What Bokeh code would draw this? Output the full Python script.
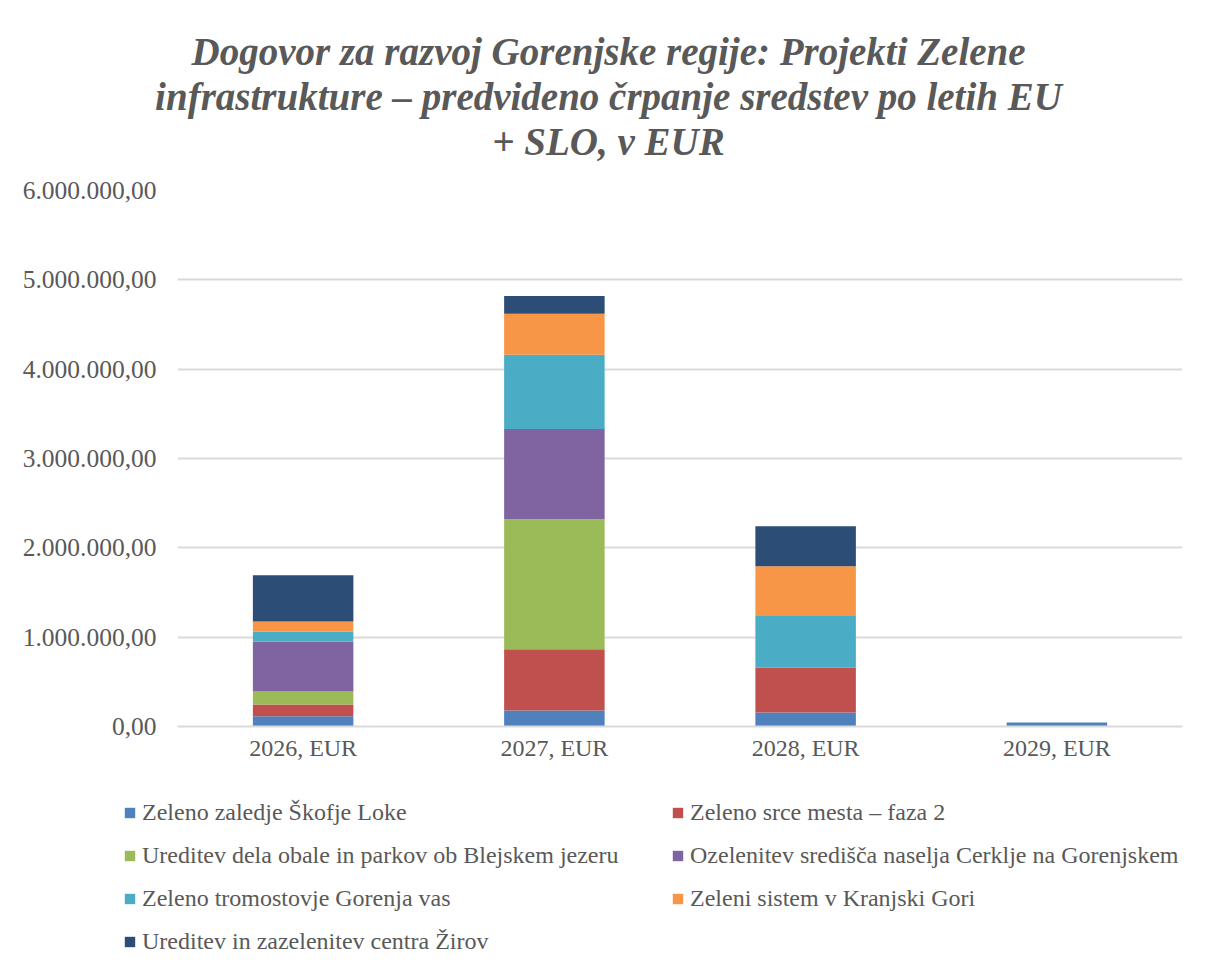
from bokeh.plotting import figure
from bokeh.layouts import column
from bokeh.models import (FactorRange, Range1d, FixedTicker, Legend, LegendItem,
                          ColumnDataSource, Title)
from bokeh.embed import file_html
from bokeh.resources import INLINE

years = ["2026, EUR", "2027, EUR", "2028, EUR", "2029, EUR"]
projects = [
    "Zeleno zaledje Škofje Loke",
    "Zeleno srce mesta – faza 2",
    "Ureditev dela obale in parkov ob Blejskem jezeru",
    "Ozelenitev središča naselja Cerklje na Gorenjskem",
    "Zeleno tromostovje Gorenja vas",
    "Zeleni sistem v Kranjski Gori",
    "Ureditev in zazelenitev centra Žirov",
]
zaledje_skofja_loka = [115000, 180000, 157000, 45000]
zeleno_srce = [131000, 684000, 504000, 0]
obala_bled = [146000, 1457000, 0, 0]
cerklje = [560000, 1009000, 0, 0]
tromostovje = [112000, 830000, 583000, 0]
kranjska_gora = [112000, 460000, 549000, 0]
ziri = [516000, 200000, 448000, 0]

y_ticks = [0, 1000000, 2000000, 3000000, 4000000, 5000000, 6000000]
y_tick_labels = ["0,00", "1.000.000,00", "2.000.000,00", "3.000.000,00",
                 "4.000.000,00", "5.000.000,00", "6.000.000,00"]

title_lines = ["Dogovor za razvoj Gorenjske regije: Projekti Zelene",
               "infrastrukture – predvideno črpanje sredstev po letih EU",
               "+ SLO, v EUR"]

colors = ["#4f81bd", "#c0504d", "#9bbb59", "#8064a2", "#4bacc6", "#f79646", "#2c4d75"]
keys = ["s0", "s1", "s2", "s3", "s4", "s5", "s6"]
series = [zaledje_skofja_loka, zeleno_srce, obala_bled, cerklje, tromostovje, kranjska_gora, ziri]

data = {"year": years}
for k, s in zip(keys, series):
    data[k] = s
src = ColumnDataSource(data)

FONT = "Liberation Serif"
TXT = "#595959"
W = 1210

# ---- title strip ----
head = figure(width=W, height=170, x_range=(0, 1), y_range=(0, 1),
              output_backend="svg", toolbar_location=None, title=None,
              min_border_left=6, min_border_right=0, min_border_top=162, min_border_bottom=0)
head.frame_align = False
head.axis.visible = False
head.grid.visible = False
head.outline_line_color = None
for line in reversed(title_lines):   # added from the line nearest the chart outward
    head.add_layout(Title(text=line, align="center", text_font=FONT, text_font_size="39px",
                          text_font_style="bold italic", text_color=TXT, standoff=0), "above")

# ---- chart ----
p = figure(width=W, height=620, x_range=FactorRange(*years), y_range=Range1d(0, 6000000),
           output_backend="svg", toolbar_location=None, title=None,
           min_border_left=177, min_border_right=28, min_border_top=20, min_border_bottom=64)
p.outline_line_color = None
p.frame_align = False

renderers = p.vbar_stack(keys, x="year", width=0.4, color=colors, source=src, line_color=None)

p.yaxis.ticker = FixedTicker(ticks=y_ticks)
p.yaxis.major_label_overrides = {t: l for t, l in zip(y_ticks, y_tick_labels)}
p.yaxis.axis_line_color = None
p.yaxis.major_tick_line_color = None
p.yaxis.major_tick_out = 0
p.yaxis.minor_tick_line_color = None
p.yaxis.major_label_text_font = FONT
p.yaxis.major_label_text_font_size = "25.5px"
p.yaxis.major_label_text_color = TXT
p.yaxis.major_label_standoff = 21

xax = p.below[0]
xax.axis_line_color = "#d9d9d9"
xax.axis_line_width = 2
xax.major_tick_line_color = None
xax.major_tick_out = 0
xax.minor_tick_line_color = None
xax.major_label_text_font = FONT
xax.major_label_text_font_size = "24px"
xax.major_label_text_color = TXT
xax.major_label_standoff = 8

p.xgrid.grid_line_color = None
p.ygrid.grid_line_color = "#d9d9d9"
p.ygrid.grid_line_width = 2
p.ygrid.ticker = FixedTicker(ticks=y_ticks)

# ---- legend strip (its bars lie far outside its visible range) ----
leg = figure(width=W, height=172, x_range=FactorRange(*years), y_range=Range1d(1e8, 2e8),
             output_backend="svg", toolbar_location=None,
             min_border_left=0, min_border_right=0, min_border_top=0, min_border_bottom=0)
leg.frame_align = False
leg.axis.visible = False
leg.grid.visible = False
leg.outline_line_color = None
swatches = leg.vbar_stack(keys, x="year", width=0.4, color=colors, source=src, line_color=None)

# legend fills column by column: reorder so rows read left-to-right
order = [0, 2, 4, 6, 1, 3, 5]
items = [LegendItem(label=projects[i], renderers=[swatches[i]]) for i in order]
legend = Legend(items=items, ncols=2, location=(123, 7),
                label_text_font=FONT, label_text_font_size="24px", label_text_color=TXT,
                glyph_width=13, glyph_height=13, label_standoff=6, spacing=16, label_width=513,
                border_line_color=None, background_fill_alpha=0, padding=0, margin=0)
leg.add_layout(legend, "center")

layout = column(head, p, leg, spacing=0)
open("out.html", "w").write(file_html(layout, INLINE))
